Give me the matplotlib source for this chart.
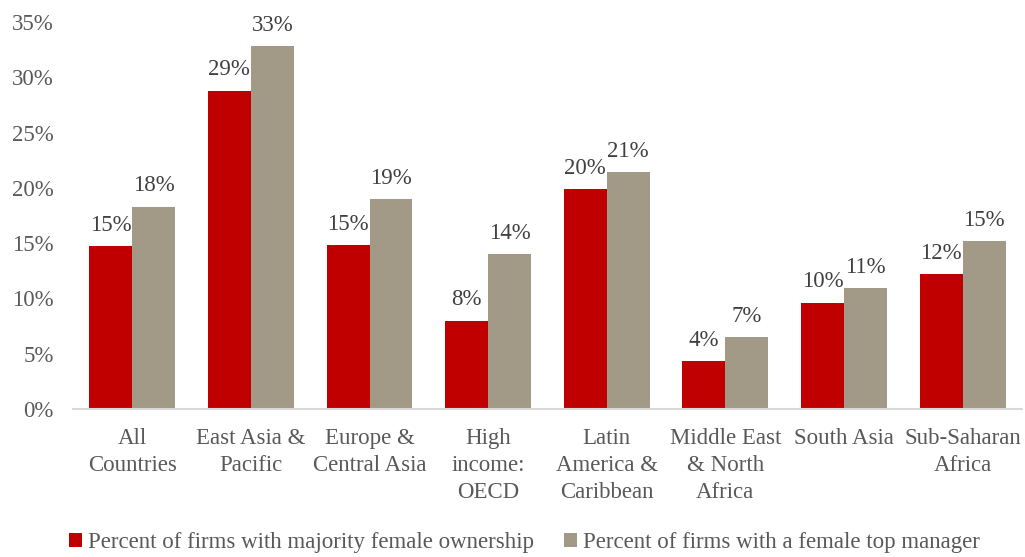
import numpy as np
import matplotlib
matplotlib.use("Agg")
import matplotlib.pyplot as plt

# --- dados ---
regioes = ["All\nCountries", "East Asia &\nPacific", "Europe &\nCentral Asia",
           "High\nincome:\nOECD", "Latin\nAmerica &\nCaribbean",
           "Middle East\n& North\nAfrica", "South Asia", "Sub-Saharan\nAfrica"]
propriedade = [14.7, 28.8, 14.8, 8.0, 19.9, 4.3, 9.6, 12.2]
gerente = [18.3, 32.8, 19.0, 14.0, 21.4, 6.5, 10.9, 15.2]
rot_prop = ["15%", "29%", "15%", "8%", "20%", "4%", "10%", "12%"]
rot_ger = ["18%", "33%", "19%", "14%", "21%", "7%", "11%", "15%"]

vermelho = "#C00000"
cinza = "#A29A86"
texto = "#595959"
fs = 16.5

plt.rcParams['font.family'] = ['Liberation Serif', 'DejaVu Serif']

fig = plt.figure(figsize=(10.25, 5.57), dpi=100)
ax = fig.add_axes([0.0712, 0.2657, 0.9258, 0.6948])

x = np.arange(len(regioes))
w = 0.362
b1 = ax.bar(x - w / 2, propriedade, w, color=vermelho,
            label="Percent of firms with majority female ownership")
b2 = ax.bar(x + w / 2, gerente, w, color=cinza,
            label="Percent of firms with a female top manager")

for barras, rots in [(b1, rot_prop), (b2, rot_ger)]:
    for b, r in zip(barras, rots):
        ax.annotate(r, (b.get_x() + b.get_width() / 2, b.get_height()),
                    xytext=(0, 7.5), textcoords="offset points",
                    ha="center", va="bottom", fontsize=fs, color="#404040")

ax.set_xlim(-0.5, len(regioes) - 0.5)
ax.set_ylim(0, 35)
ax.set_yticks(np.arange(0, 36, 5))
ax.set_yticklabels([f"{v}%" for v in range(0, 36, 5)])
ax.set_xticks(x)
ax.set_xticklabels(regioes, va="top", linespacing=1.38)

ax.tick_params(axis="both", length=0, labelsize=fs, labelcolor=texto)
ax.tick_params(axis="x", pad=13.5)
ax.tick_params(axis="y", pad=14)
for s in ["top", "right", "left"]:
    ax.spines[s].set_visible(False)
ax.spines["bottom"].set_color("#D9D9D9")
ax.spines["bottom"].set_linewidth(1.5)

leg = fig.legend(loc="lower center", bbox_to_anchor=(0.512, -0.03), ncol=2,
                 frameon=False, fontsize=fs, handlelength=0.55,
                 handleheight=0.55, handletextpad=0.28, columnspacing=1.3)
for t in leg.get_texts():
    t.set_color(texto)

fig.savefig("out.png", dpi=100)
